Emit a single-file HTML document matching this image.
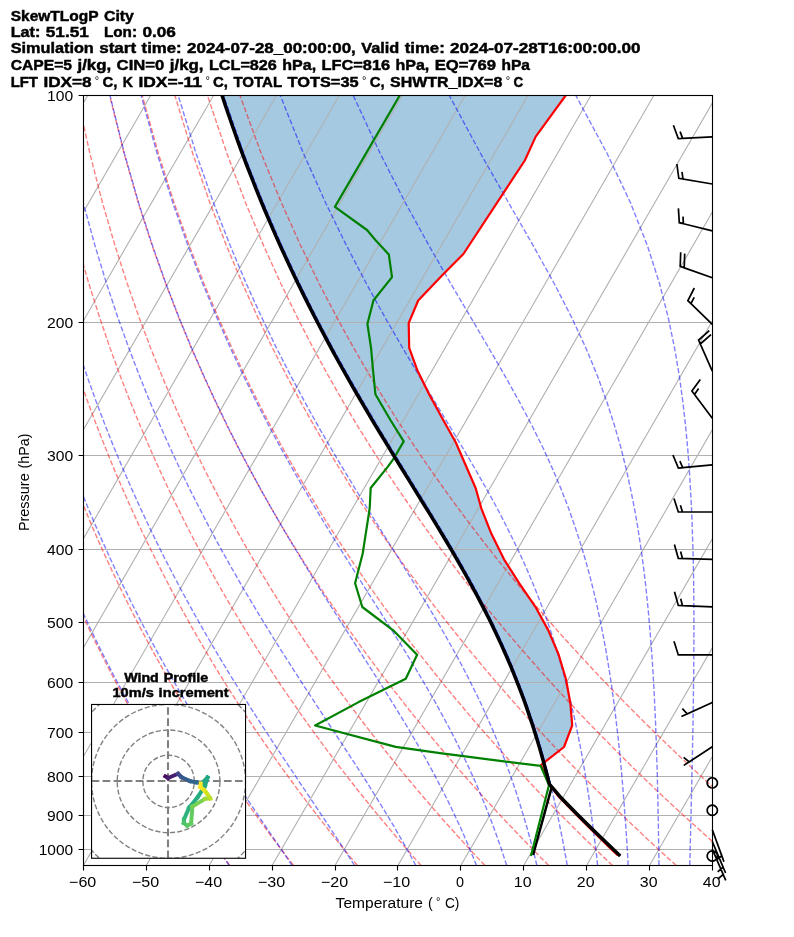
<!DOCTYPE html>
<html><head><meta charset="utf-8"><title>SkewTLogP City</title>
<style>html,body{margin:0;padding:0;background:#fff}svg{display:block;will-change:transform}</style></head>
<body>
<svg width="794" height="937" viewBox="0 0 794 937" font-family="'Liberation Sans', sans-serif">
<rect width="794" height="937" fill="#fff"/>
<defs><clipPath id="ax"><rect x="83.5" y="95.5" width="629" height="770"/></clipPath><clipPath id="hod"><rect x="91.55" y="704.47" width="154.03" height="153.77"/></clipPath></defs>
<g clip-path="url(#ax)">
<path d="M222.1 95.5 L225.9 107.2 L229.9 118.8 L234 130.5 L238.1 142.2 L242.4 153.9 L246.8 165.5 L251.4 177.2 L256 188.9 L260.7 200.5 L265.6 212.2 L270.6 223.9 L275.7 235.6 L280.9 247.2 L286.3 258.9 L291.7 270.6 L297.3 282.2 L303 293.9 L308.9 305.6 L314.8 317.3 L320.9 328.9 L327.1 340.6 L333.4 352.3 L339.8 364 L346.4 375.6 L353 387.3 L359.8 399 L366.6 410.6 L373.5 422.3 L380.6 434 L387.7 445.7 L394.8 457.3 L402 469 L409.2 480.7 L416.4 492.3 L423.6 504 L430.8 515.7 L437.9 527.4 L444.9 539 L451.8 550.7 L458.6 562.4 L465.2 574 L471.7 585.7 L478 597.4 L484.1 609.1 L490 620.7 L495.6 632.4 L501 644.1 L506.2 655.7 L511.2 667.4 L515.9 679.1 L520.5 690.8 L524.8 702.4 L528.8 714.1 L532.7 725.8 L536.4 737.4 L539.9 749.1 L543.2 760.8 L543.3 762.8 L564 747 L572.2 725.4 L570.4 703.5 L566 679.2 L558.5 654.3 L548.2 630.1 L535.4 606.8 L519.3 583.4 L504 559.3 L491.4 533.8 L481.3 508.3 L475.7 488.2 L455.7 442.3 L443.2 420 L429.2 394.4 L417.1 369.7 L409.2 347.8 L408.7 323.1 L418.2 300.5 L442 275.5 L463.4 254 L524.8 160.5 L535.7 136.6 L566 95Z" fill="#1f77b4" fill-opacity="0.4"/>
<path d="M-356.9 865.5L87.7 95.5M-294 865.5L150.6 95.5M-231.1 865.5L213.5 95.5M-168.2 865.5L276.4 95.5M-105.3 865.5L339.3 95.5M-42.4 865.5L402.2 95.5M20.5 865.5L465.1 95.5M83.4 865.5L528 95.5M146.3 865.5L590.9 95.5M209.2 865.5L653.8 95.5M272.1 865.5L716.7 95.5M335 865.5L779.6 95.5M397.9 865.5L842.5 95.5M460.8 865.5L905.4 95.5M523.7 865.5L968.3 95.5M586.6 865.5L1031.2 95.5M649.5 865.5L1094.1 95.5M712.4 865.5L1157 95.5M83.5 95.5H712.5M83.5 322.5H712.5M83.5 455.5H712.5M83.5 549.5H712.5M83.5 622.5H712.5M83.5 682.5H712.5M83.5 732.5H712.5M83.5 776.5H712.5M83.5 815.5H712.5M83.5 849.5H712.5" stroke="#b0b0b0" stroke-width="1.1" fill="none"/>
<path d="M229.8 865.5 L225.4 859.4 L221 853.2 L216.5 846.8 L212 840.4 L207.5 833.8 L202.9 827 L198.3 820.2 L193.6 813.2 L188.9 806 L184.1 798.7 L179.3 791.2 L174.4 783.5 L169.5 775.6 L164.5 767.6 L159.5 759.3 L154.4 750.8 L149.3 742.1 L144 733.2 L138.8 724 L133.4 714.6 L128 704.8 L122.6 694.8 L117 684.5 L111.4 673.8 L105.7 662.7 L100 651.3 L94.1 639.5 L88.2 627.2 L82.2 614.4 L76.1 601.1 L69.9 587.3 L63.6 572.8 L57.3 557.7 L50.8 541.9 L44.2 525.2 L37.6 507.6 L30.8 489.1 L24 469.4 L17 448.5 L9.9 426.2 L2.8 402.2 L-4.4 376.3 L-11.7 348.2 L-19 317.4 L-26.3 283.5 L-33.5 245.6 L-40.6 202.8 L-47.2 153.5 L-53.2 95.5M293.6 865.5 L288.9 859.4 L284.1 853.2 L279.3 846.8 L274.4 840.4 L269.5 833.8 L264.6 827 L259.6 820.2 L254.6 813.2 L249.5 806 L244.3 798.7 L239.1 791.2 L233.8 783.5 L228.5 775.6 L223.1 767.6 L217.6 759.3 L212.1 750.8 L206.5 742.1 L200.9 733.2 L195.2 724 L189.4 714.6 L183.5 704.8 L177.5 694.8 L171.5 684.5 L165.4 673.8 L159.2 662.7 L152.9 651.3 L146.5 639.5 L140 627.2 L133.4 614.4 L126.7 601.1 L119.9 587.3 L113 572.8 L106 557.7 L98.9 541.9 L91.6 525.2 L84.3 507.6 L76.7 489.1 L69.1 469.4 L61.3 448.5 L53.4 426.2 L45.4 402.2 L37.2 376.3 L28.9 348.2 L20.5 317.4 L12.1 283.5 L3.6 245.6 L-4.8 202.8 L-13 153.5 L-20.6 95.5M357.4 865.5 L352.3 859.4 L347.2 853.2 L342 846.8 L336.8 840.4 L331.6 833.8 L326.3 827 L320.9 820.2 L315.5 813.2 L310 806 L304.5 798.7 L298.9 791.2 L293.2 783.5 L287.5 775.6 L281.7 767.6 L275.8 759.3 L269.8 750.8 L263.8 742.1 L257.7 733.2 L251.5 724 L245.3 714.6 L238.9 704.8 L232.5 694.8 L226 684.5 L219.3 673.8 L212.6 662.7 L205.8 651.3 L198.9 639.5 L191.8 627.2 L184.7 614.4 L177.4 601.1 L170 587.3 L162.5 572.8 L154.8 557.7 L147 541.9 L139 525.2 L130.9 507.6 L122.7 489.1 L114.2 469.4 L105.7 448.5 L96.9 426.2 L87.9 402.2 L78.8 376.3 L69.5 348.2 L60.1 317.4 L50.4 283.5 L40.7 245.6 L31 202.8 L21.3 153.5 L12 95.5M421.1 865.5 L415.7 859.4 L410.3 853.2 L404.8 846.8 L399.2 840.4 L393.6 833.8 L388 827 L382.2 820.2 L376.4 813.2 L370.6 806 L364.6 798.7 L358.6 791.2 L352.6 783.5 L346.4 775.6 L340.2 767.6 L333.9 759.3 L327.5 750.8 L321.1 742.1 L314.5 733.2 L307.9 724 L301.2 714.6 L294.4 704.8 L287.4 694.8 L280.4 684.5 L273.3 673.8 L266.1 662.7 L258.7 651.3 L251.2 639.5 L243.6 627.2 L235.9 614.4 L228 601.1 L220 587.3 L211.9 572.8 L203.6 557.7 L195.1 541.9 L186.4 525.2 L177.6 507.6 L168.6 489.1 L159.4 469.4 L150 448.5 L140.4 426.2 L130.5 402.2 L120.4 376.3 L110.1 348.2 L99.6 317.4 L88.8 283.5 L77.9 245.6 L66.7 202.8 L55.6 153.5 L44.6 95.5M484.9 865.5 L479.2 859.4 L473.4 853.2 L467.6 846.8 L461.6 840.4 L455.7 833.8 L449.6 827 L443.5 820.2 L437.4 813.2 L431.1 806 L424.8 798.7 L418.4 791.2 L411.9 783.5 L405.4 775.6 L398.8 767.6 L392.1 759.3 L385.3 750.8 L378.4 742.1 L371.4 733.2 L364.3 724 L357.1 714.6 L349.8 704.8 L342.4 694.8 L334.9 684.5 L327.2 673.8 L319.5 662.7 L311.6 651.3 L303.6 639.5 L295.4 627.2 L287.1 614.4 L278.7 601.1 L270.1 587.3 L261.3 572.8 L252.3 557.7 L243.2 541.9 L233.8 525.2 L224.3 507.6 L214.5 489.1 L204.5 469.4 L194.3 448.5 L183.8 426.2 L173.1 402.2 L162.1 376.3 L150.7 348.2 L139.1 317.4 L127.2 283.5 L115 245.6 L102.5 202.8 L89.9 153.5 L77.1 95.5M548.7 865.5 L542.6 859.4 L536.5 853.2 L530.3 846.8 L524 840.4 L517.7 833.8 L511.3 827 L504.8 820.2 L498.3 813.2 L491.7 806 L485 798.7 L478.2 791.2 L471.3 783.5 L464.4 775.6 L457.3 767.6 L450.2 759.3 L443 750.8 L435.6 742.1 L428.2 733.2 L420.7 724 L413 714.6 L405.2 704.8 L397.4 694.8 L389.3 684.5 L381.2 673.8 L372.9 662.7 L364.5 651.3 L356 639.5 L347.2 627.2 L338.4 614.4 L329.3 601.1 L320.1 587.3 L310.7 572.8 L301.1 557.7 L291.3 541.9 L281.2 525.2 L271 507.6 L260.5 489.1 L249.7 469.4 L238.6 448.5 L227.3 426.2 L215.7 402.2 L203.7 376.3 L191.4 348.2 L178.7 317.4 L165.6 283.5 L152.1 245.6 L138.3 202.8 L124.1 153.5 L109.7 95.5M612.5 865.5 L606.1 859.4 L599.6 853.2 L593.1 846.8 L586.4 840.4 L579.8 833.8 L573 827 L566.2 820.2 L559.2 813.2 L552.2 806 L545.1 798.7 L538 791.2 L530.7 783.5 L523.3 775.6 L515.9 767.6 L508.3 759.3 L500.7 750.8 L492.9 742.1 L485 733.2 L477 724 L468.9 714.6 L460.7 704.8 L452.3 694.8 L443.8 684.5 L435.2 673.8 L426.4 662.7 L417.4 651.3 L408.3 639.5 L399 627.2 L389.6 614.4 L380 601.1 L370.1 587.3 L360.1 572.8 L349.8 557.7 L339.4 541.9 L328.6 525.2 L317.6 507.6 L306.4 489.1 L294.8 469.4 L283 448.5 L270.8 426.2 L258.2 402.2 L245.3 376.3 L232 348.2 L218.2 317.4 L204 283.5 L189.3 245.6 L174.1 202.8 L158.4 153.5 L142.3 95.5M676.3 865.5 L669.5 859.4 L662.7 853.2 L655.8 846.8 L648.8 840.4 L641.8 833.8 L634.7 827 L627.5 820.2 L620.2 813.2 L612.8 806 L605.3 798.7 L597.7 791.2 L590.1 783.5 L582.3 775.6 L574.4 767.6 L566.5 759.3 L558.4 750.8 L550.2 742.1 L541.9 733.2 L533.4 724 L524.8 714.6 L516.1 704.8 L507.3 694.8 L498.3 684.5 L489.1 673.8 L479.8 662.7 L470.3 651.3 L460.7 639.5 L450.9 627.2 L440.8 614.4 L430.6 601.1 L420.2 587.3 L409.5 572.8 L398.6 557.7 L387.4 541.9 L376 525.2 L364.3 507.6 L352.3 489.1 L340 469.4 L327.3 448.5 L314.3 426.2 L300.8 402.2 L286.9 376.3 L272.6 348.2 L257.8 317.4 L242.4 283.5 L226.4 245.6 L209.9 202.8 L192.7 153.5 L174.9 95.5M740.1 865.5 L733 859.4 L725.8 853.2 L718.6 846.8 L711.2 840.4 L703.8 833.8 L696.4 827 L688.8 820.2 L681.1 813.2 L673.3 806 L665.5 798.7 L657.5 791.2 L649.5 783.5 L641.3 775.6 L633 767.6 L624.6 759.3 L616.1 750.8 L607.5 742.1 L598.7 733.2 L589.8 724 L580.7 714.6 L571.6 704.8 L562.2 694.8 L552.7 684.5 L543.1 673.8 L533.3 662.7 L523.3 651.3 L513.1 639.5 L502.7 627.2 L492.1 614.4 L481.2 601.1 L470.2 587.3 L458.9 572.8 L447.4 557.7 L435.5 541.9 L423.4 525.2 L411 507.6 L398.2 489.1 L385.1 469.4 L371.6 448.5 L357.7 426.2 L343.4 402.2 L328.6 376.3 L313.2 348.2 L297.3 317.4 L280.8 283.5 L263.6 245.6 L245.6 202.8 L226.9 153.5 L207.5 95.5M803.8 865.5 L796.4 859.4 L788.9 853.2 L781.3 846.8 L773.6 840.4 L765.9 833.8 L758 827 L750.1 820.2 L742 813.2 L733.9 806 L725.7 798.7 L717.3 791.2 L708.8 783.5 L700.3 775.6 L691.6 767.6 L682.7 759.3 L673.8 750.8 L664.7 742.1 L655.5 733.2 L646.2 724 L636.7 714.6 L627 704.8 L617.2 694.8 L607.2 684.5 L597 673.8 L586.7 662.7 L576.2 651.3 L565.4 639.5 L554.5 627.2 L543.3 614.4 L531.9 601.1 L520.2 587.3 L508.3 572.8 L496.1 557.7 L483.6 541.9 L470.8 525.2 L457.7 507.6 L444.2 489.1 L430.3 469.4 L416 448.5 L401.2 426.2 L386 402.2 L370.2 376.3 L353.8 348.2 L336.8 317.4 L319.1 283.5 L300.7 245.6 L281.4 202.8 L261.2 153.5 L240 95.5" stroke="#ff0000" stroke-opacity="0.5" stroke-width="1.39" stroke-dasharray="5.14 2.22" fill="none"/>
<path d="M229.2 865.5 L225.1 859.4 L220.9 853.2 L216.6 846.8 L212.3 840.4 L207.9 833.8 L203.5 827 L199 820.2 L194.5 813.2 L189.8 806 L185.2 798.7 L180.4 791.2 L175.6 783.5 L170.8 775.6 L165.8 767.6 L160.9 759.3 L155.8 750.8 L150.7 742.1 L145.5 733.2 L140.3 724 L134.9 714.6 L129.5 704.8 L124.1 694.8 L118.5 684.5 L112.9 673.8 L107.2 662.7 L101.5 651.3 L95.6 639.5 L89.7 627.2 L83.7 614.4 L77.5 601.1 L71.3 587.3 L65.1 572.8 L58.7 557.7 L52.2 541.9 L45.6 525.2 L38.9 507.6 L32.1 489.1 L25.3 469.4 L18.3 448.5 L11.2 426.2 L4 402.2 L-3.2 376.3 L-10.5 348.2 L-17.9 317.4 L-25.2 283.5 L-32.5 245.6 L-39.5 202.8 L-46.2 153.5 L-52.2 95.5M292.2 865.5 L288 859.4 L283.8 853.2 L279.5 846.8 L275.1 840.4 L270.6 833.8 L266 827 L261.4 820.2 L256.7 813.2 L251.9 806 L247 798.7 L242 791.2 L236.9 783.5 L231.8 775.6 L226.5 767.6 L221.2 759.3 L215.8 750.8 L210.3 742.1 L204.8 733.2 L199.1 724 L193.4 714.6 L187.5 704.8 L181.6 694.8 L175.6 684.5 L169.5 673.8 L163.2 662.7 L156.9 651.3 L150.5 639.5 L144 627.2 L137.4 614.4 L130.7 601.1 L123.9 587.3 L116.9 572.8 L109.9 557.7 L102.7 541.9 L95.4 525.2 L87.9 507.6 L80.4 489.1 L72.7 469.4 L64.8 448.5 L56.8 426.2 L48.7 402.2 L40.5 376.3 L32.1 348.2 L23.6 317.4 L15.1 283.5 L6.5 245.6 L-2 202.8 L-10.3 153.5 L-18 95.5M354.5 865.5 L350.6 859.4 L346.6 853.2 L342.5 846.8 L338.3 840.4 L333.9 833.8 L329.5 827 L325 820.2 L320.3 813.2 L315.5 806 L310.6 798.7 L305.6 791.2 L300.4 783.5 L295.2 775.6 L289.8 767.6 L284.3 759.3 L278.7 750.8 L272.9 742.1 L267.1 733.2 L261.1 724 L255 714.6 L248.8 704.8 L242.5 694.8 L236 684.5 L229.4 673.8 L222.7 662.7 L215.9 651.3 L208.9 639.5 L201.8 627.2 L194.6 614.4 L187.3 601.1 L179.8 587.3 L172.2 572.8 L164.4 557.7 L156.5 541.9 L148.4 525.2 L140.2 507.6 L131.8 489.1 L123.2 469.4 L114.4 448.5 L105.5 426.2 L96.4 402.2 L87.1 376.3 L77.6 348.2 L67.9 317.4 L58 283.5 L48.1 245.6 L38.1 202.8 L28.1 153.5 L18.4 95.5M415.8 865.5 L412.6 859.4 L409.2 853.2 L405.6 846.8 L402 840.4 L398.2 833.8 L394.3 827 L390.2 820.2 L386 813.2 L381.6 806 L377.1 798.7 L372.4 791.2 L367.6 783.5 L362.6 775.6 L357.4 767.6 L352 759.3 L346.5 750.8 L340.8 742.1 L335 733.2 L328.9 724 L322.7 714.6 L316.3 704.8 L309.8 694.8 L303 684.5 L296.1 673.8 L289 662.7 L281.7 651.3 L274.3 639.5 L266.7 627.2 L258.9 614.4 L250.9 601.1 L242.7 587.3 L234.4 572.8 L225.8 557.7 L217.1 541.9 L208.2 525.2 L199.1 507.6 L189.7 489.1 L180.2 469.4 L170.4 448.5 L160.4 426.2 L150.1 402.2 L139.6 376.3 L128.9 348.2 L117.8 317.4 L106.5 283.5 L95 245.6 L83.2 202.8 L71.4 153.5 L59.6 95.5M476.5 865.5 L474.1 859.4 L471.5 853.2 L468.9 846.8 L466.1 840.4 L463.3 833.8 L460.3 827 L457.1 820.2 L453.8 813.2 L450.4 806 L446.8 798.7 L443 791.2 L439 783.5 L434.9 775.6 L430.5 767.6 L426 759.3 L421.2 750.8 L416.2 742.1 L411 733.2 L405.5 724 L399.8 714.6 L393.8 704.8 L387.5 694.8 L381 684.5 L374.2 673.8 L367.1 662.7 L359.8 651.3 L352.2 639.5 L344.3 627.2 L336.1 614.4 L327.6 601.1 L318.9 587.3 L309.8 572.8 L300.6 557.7 L291 541.9 L281.1 525.2 L271 507.6 L260.6 489.1 L249.9 469.4 L238.9 448.5 L227.6 426.2 L216 402.2 L204 376.3 L191.7 348.2 L179 317.4 L165.9 283.5 L152.5 245.6 L138.6 202.8 L124.4 153.5 L110 95.5M506.7 865.5 L504.7 859.4 L502.7 853.2 L500.6 846.8 L498.3 840.4 L496 833.8 L493.5 827 L491 820.2 L488.3 813.2 L485.4 806 L482.4 798.7 L479.3 791.2 L476 783.5 L472.5 775.6 L468.8 767.6 L464.9 759.3 L460.8 750.8 L456.5 742.1 L452 733.2 L447.1 724 L442 714.6 L436.7 704.8 L431 694.8 L425 684.5 L418.7 673.8 L412 662.7 L405 651.3 L397.6 639.5 L389.9 627.2 L381.8 614.4 L373.4 601.1 L364.6 587.3 L355.4 572.8 L345.9 557.7 L336 541.9 L325.7 525.2 L315.1 507.6 L304.1 489.1 L292.8 469.4 L281.1 448.5 L269 426.2 L256.6 402.2 L243.7 376.3 L230.5 348.2 L216.8 317.4 L202.6 283.5 L187.9 245.6 L172.8 202.8 L157.1 153.5 L141.1 95.5M536.9 865.5 L535.4 859.4 L533.9 853.2 L532.2 846.8 L530.5 840.4 L528.7 833.8 L526.8 827 L524.8 820.2 L522.7 813.2 L520.5 806 L518.2 798.7 L515.8 791.2 L513.2 783.5 L510.5 775.6 L507.6 767.6 L504.5 759.3 L501.2 750.8 L497.8 742.1 L494.1 733.2 L490.1 724 L485.9 714.6 L481.5 704.8 L476.7 694.8 L471.6 684.5 L466.2 673.8 L460.4 662.7 L454.2 651.3 L447.6 639.5 L440.5 627.2 L433 614.4 L425.1 601.1 L416.6 587.3 L407.6 572.8 L398.2 557.7 L388.2 541.9 L377.8 525.2 L366.9 507.6 L355.4 489.1 L343.5 469.4 L331.1 448.5 L318.2 426.2 L304.9 402.2 L291 376.3 L276.6 348.2 L261.7 317.4 L246.2 283.5 L230.2 245.6 L213.5 202.8 L196.1 153.5 L178.2 95.5M567.2 865.5 L566.2 859.4 L565 853.2 L563.9 846.8 L562.7 840.4 L561.4 833.8 L560 827 L558.6 820.2 L557.1 813.2 L555.5 806 L553.9 798.7 L552.1 791.2 L550.2 783.5 L548.3 775.6 L546.2 767.6 L543.9 759.3 L541.5 750.8 L539 742.1 L536.3 733.2 L533.4 724 L530.2 714.6 L526.9 704.8 L523.3 694.8 L519.4 684.5 L515.2 673.8 L510.7 662.7 L505.8 651.3 L500.4 639.5 L494.7 627.2 L488.4 614.4 L481.6 601.1 L474.3 587.3 L466.3 572.8 L457.7 557.7 L448.4 541.9 L438.4 525.2 L427.7 507.6 L416.3 489.1 L404.1 469.4 L391.3 448.5 L377.7 426.2 L363.5 402.2 L348.5 376.3 L332.9 348.2 L316.6 317.4 L299.6 283.5 L281.8 245.6 L263.2 202.8 L243.8 153.5 L223.5 95.5M597.6 865.5 L597 859.4 L596.3 853.2 L595.5 846.8 L594.7 840.4 L593.9 833.8 L593 827 L592.1 820.2 L591.2 813.2 L590.1 806 L589.1 798.7 L587.9 791.2 L586.7 783.5 L585.4 775.6 L584.1 767.6 L582.6 759.3 L581.1 750.8 L579.4 742.1 L577.6 733.2 L575.7 724 L573.7 714.6 L571.4 704.8 L569 694.8 L566.4 684.5 L563.6 673.8 L560.5 662.7 L557.1 651.3 L553.4 639.5 L549.4 627.2 L544.9 614.4 L539.9 601.1 L534.5 587.3 L528.4 572.8 L521.7 557.7 L514.2 541.9 L505.9 525.2 L496.8 507.6 L486.6 489.1 L475.4 469.4 L463.1 448.5 L449.6 426.2 L435.1 402.2 L419.5 376.3 L402.8 348.2 L385 317.4 L366.3 283.5 L346.5 245.6 L325.6 202.8 L303.5 153.5 L280.3 95.5M628.2 865.5 L627.9 859.4 L627.5 853.2 L627.1 846.8 L626.7 840.4 L626.3 833.8 L625.8 827 L625.3 820.2 L624.8 813.2 L624.3 806 L623.7 798.7 L623.1 791.2 L622.5 783.5 L621.8 775.6 L621.1 767.6 L620.3 759.3 L619.5 750.8 L618.6 742.1 L617.6 733.2 L616.5 724 L615.4 714.6 L614.2 704.8 L612.8 694.8 L611.4 684.5 L609.8 673.8 L608 662.7 L606.1 651.3 L603.9 639.5 L601.6 627.2 L598.9 614.4 L596 601.1 L592.7 587.3 L589 572.8 L584.8 557.7 L580 541.9 L574.5 525.2 L568.3 507.6 L561.1 489.1 L552.8 469.4 L543.3 448.5 L532.3 426.2 L519.6 402.2 L505.2 376.3 L488.9 348.2 L470.8 317.4 L450.7 283.5 L429 245.6 L405.4 202.8 L380.2 153.5 L353.3 95.5M658.9 865.5 L658.9 859.4 L658.8 853.2 L658.7 846.8 L658.6 840.4 L658.5 833.8 L658.4 827 L658.3 820.2 L658.1 813.2 L658 806 L657.8 798.7 L657.7 791.2 L657.5 783.5 L657.3 775.6 L657.1 767.6 L656.8 759.3 L656.6 750.8 L656.3 742.1 L655.9 733.2 L655.6 724 L655.2 714.6 L654.7 704.8 L654.3 694.8 L653.7 684.5 L653.1 673.8 L652.4 662.7 L651.6 651.3 L650.7 639.5 L649.7 627.2 L648.6 614.4 L647.3 601.1 L645.9 587.3 L644.2 572.8 L642.3 557.7 L640 541.9 L637.4 525.2 L634.3 507.6 L630.6 489.1 L626.3 469.4 L621.1 448.5 L614.7 426.2 L607 402.2 L597.6 376.3 L586 348.2 L571.6 317.4 L554.2 283.5 L533.2 245.6 L508.6 202.8 L480.6 153.5 L449.3 95.5M689.8 865.5 L689.9 859.4 L690.1 853.2 L690.2 846.8 L690.4 840.4 L690.6 833.8 L690.7 827 L690.9 820.2 L691.1 813.2 L691.2 806 L691.4 798.7 L691.6 791.2 L691.8 783.5 L691.9 775.6 L692.1 767.6 L692.3 759.3 L692.5 750.8 L692.6 742.1 L692.8 733.2 L693 724 L693.1 714.6 L693.3 704.8 L693.4 694.8 L693.5 684.5 L693.7 673.8 L693.8 662.7 L693.8 651.3 L693.9 639.5 L693.9 627.2 L693.9 614.4 L693.8 601.1 L693.7 587.3 L693.5 572.8 L693.2 557.7 L692.7 541.9 L692.2 525.2 L691.5 507.6 L690.5 489.1 L689.3 469.4 L687.7 448.5 L685.6 426.2 L682.9 402.2 L679.4 376.3 L674.6 348.2 L668.2 317.4 L659.5 283.5 L647.4 245.6 L630.5 202.8 L607.1 153.5 L575.9 95.5M720.8 865.5 L721.1 859.4 L721.4 853.2 L721.8 846.8 L722.1 840.4 L722.5 833.8 L722.9 827 L723.3 820.2 L723.7 813.2 L724.1 806 L724.5 798.7 L724.9 791.2 L725.4 783.5 L725.8 775.6 L726.3 767.6 L726.8 759.3 L727.3 750.8 L727.8 742.1 L728.3 733.2 L728.9 724 L729.5 714.6 L730 704.8 L730.6 694.8 L731.3 684.5 L731.9 673.8 L732.6 662.7 L733.2 651.3 L733.9 639.5 L734.6 627.2 L735.4 614.4 L736.1 601.1 L736.9 587.3 L737.7 572.8 L738.5 557.7 L739.3 541.9 L740.1 525.2 L740.9 507.6 L741.7 489.1 L742.4 469.4 L743.1 448.5 L743.7 426.2 L744.2 402.2 L744.5 376.3 L744.5 348.2 L744.1 317.4 L742.9 283.5 L740.6 245.6 L736.3 202.8 L728.7 153.5 L715 95.5M751.9 865.5 L752.3 859.4 L752.8 853.2 L753.3 846.8 L753.8 840.4 L754.3 833.8 L754.8 827 L755.4 820.2 L756 813.2 L756.6 806 L757.2 798.7 L757.8 791.2 L758.4 783.5 L759.1 775.6 L759.8 767.6 L760.5 759.3 L761.2 750.8 L762 742.1 L762.8 733.2 L763.6 724 L764.5 714.6 L765.4 704.8 L766.3 694.8 L767.3 684.5 L768.3 673.8 L769.3 662.7 L770.4 651.3 L771.5 639.5 L772.7 627.2 L774 614.4 L775.3 601.1 L776.6 587.3 L778 572.8 L779.5 557.7 L781.1 541.9 L782.8 525.2 L784.5 507.6 L786.4 489.1 L788.3 469.4 L790.4 448.5 L792.6 426.2 L794.9 402.2 L797.4 376.3 L800 348.2 L802.7 317.4 L805.6 283.5 L808.5 245.6 L811.3 202.8 L813.8 153.5 L815.4 95.5M783 865.5 L783.6 859.4 L784.2 853.2 L784.8 846.8 L785.4 840.4 L786 833.8 L786.7 827 L787.3 820.2 L788 813.2 L788.7 806 L789.5 798.7 L790.3 791.2 L791 783.5 L791.9 775.6 L792.7 767.6 L793.6 759.3 L794.5 750.8 L795.4 742.1 L796.4 733.2 L797.4 724 L798.5 714.6 L799.6 704.8 L800.7 694.8 L801.9 684.5 L803.2 673.8 L804.5 662.7 L805.8 651.3 L807.3 639.5 L808.8 627.2 L810.4 614.4 L812 601.1 L813.8 587.3 L815.6 572.8 L817.6 557.7 L819.6 541.9 L821.8 525.2 L824.2 507.6 L826.7 489.1 L829.3 469.4 L832.2 448.5 L835.3 426.2 L838.7 402.2 L842.3 376.3 L846.4 348.2 L850.8 317.4 L855.7 283.5 L861.1 245.6 L867.3 202.8 L874.3 153.5 L882.4 95.5" stroke="#0000ff" stroke-opacity="0.5" stroke-width="1.39" stroke-dasharray="5.14 2.22" fill="none"/>
<path d="M551.7 787.1 L533.4 853.8" stroke="#000" stroke-width="2.5" fill="none" stroke-linecap="square"/>
<path d="M566 95 L535.7 136.6 L524.8 160.5 L463.4 254 L442 275.5 L418.2 300.5 L408.7 323.1 L409.2 347.8 L417.1 369.7 L429.2 394.4 L443.2 420 L455.7 442.3 L475.7 488.2 L481.3 508.3 L491.4 533.8 L504 559.3 L519.3 583.4 L535.4 606.8 L548.2 630.1 L558.5 654.3 L566 679.2 L570.4 703.5 L572.2 725.4 L564 747 L541 765 L549.2 784.3 L558.9 796.7 L567.6 805.7 L576.2 814.4 L584.6 822.9 L592.9 831.2 L601.1 839.2 L609.2 847.1 L617.2 854.8" stroke="#ff0000" stroke-width="2.2" fill="none" stroke-linejoin="round" stroke-linecap="square"/>
<path d="M400 95 L334.9 206.9 L367 230 L375.4 240 L388.8 254.4 L392 277.1 L373.4 300.5 L367.4 323.9 L371.1 348.3 L373 370 L375.4 394.2 L390.4 420 L403.7 441.4 L394.2 457.8 L387.9 466.6 L370.7 488 L369.7 508.2 L362.7 553.5 L355.1 583.2 L362.3 607 L393.2 630.3 L417.1 654.7 L405.8 678.7 L358.6 702.1 L315.1 725.5 L395.7 746.9 L440 753.2 L500 760.8 L540.6 765.9 L549 785 L531.2 854.9" stroke="#008000" stroke-width="2.2" fill="none" stroke-linejoin="round" stroke-linecap="square"/>
<path d="M550.1 784.1 L547.1 772.5 L544 760.8 L540.7 749.1 L537.2 737.4 L533.5 725.8 L529.6 714.1 L525.5 702.4 L521.2 690.8 L516.7 679.1 L512 667.4 L507 655.7 L501.8 644.1 L496.4 632.4 L490.7 620.7 L484.8 609.1 L478.7 597.4 L472.5 585.7 L466 574 L459.4 562.4 L452.6 550.7 L445.6 539 L438.6 527.4 L431.5 515.7 L424.4 504 L417.2 492.3 L409.9 480.7 L402.7 469 L395.5 457.3 L388.4 445.7 L381.3 434 L374.3 422.3 L367.4 410.6 L360.5 399 L353.8 387.3 L347.1 375.6 L340.6 364 L334.1 352.3 L327.8 340.6 L321.6 328.9 L315.6 317.3 L309.6 305.6 L303.8 293.9 L298.1 282.2 L292.5 270.6 L287 258.9 L281.7 247.2 L276.4 235.6 L271.3 223.9 L266.4 212.2 L261.5 200.5 L256.7 188.9 L252.1 177.2 L247.6 165.5 L243.2 153.9 L238.9 142.2 L234.7 130.5 L230.6 118.8 L226.7 107.2 L222.8 95.5" stroke="#0000ff" stroke-opacity="0.7" stroke-width="2.08" fill="none"/>
<path d="M619 854.8 L610.9 847.1 L602.8 839.2 L594.5 831.2 L586.1 822.9 L577.5 814.4 L568.9 805.7 L560.1 796.7 L549.4 784.1 L546.4 772.5 L543.2 760.8 L539.9 749.1 L536.4 737.4 L532.7 725.8 L528.8 714.1 L524.8 702.4 L520.5 690.8 L515.9 679.1 L511.2 667.4 L506.2 655.7 L501 644.1 L495.6 632.4 L490 620.7 L484.1 609.1 L478 597.4 L471.7 585.7 L465.2 574 L458.6 562.4 L451.8 550.7 L444.9 539 L437.9 527.4 L430.8 515.7 L423.6 504 L416.4 492.3 L409.2 480.7 L402 469 L394.8 457.3 L387.7 445.7 L380.6 434 L373.5 422.3 L366.6 410.6 L359.8 399 L353 387.3 L346.4 375.6 L339.8 364 L333.4 352.3 L327.1 340.6 L320.9 328.9 L314.8 317.3 L308.9 305.6 L303 293.9 L297.3 282.2 L291.7 270.6 L286.3 258.9 L280.9 247.2 L275.7 235.6 L270.6 223.9 L265.6 212.2 L260.7 200.5 L256 188.9 L251.4 177.2 L246.8 165.5 L242.4 153.9 L238.1 142.2 L234 130.5 L229.9 118.8 L225.9 107.2 L222.1 95.5" stroke="#000" stroke-width="3.47" fill="none" stroke-linejoin="round" stroke-linecap="square"/>
</g>
<path d="M712.3 136.9 L678.3 138.5 L673.4 125.2 L678.3 138.5 L682.6 138.3 L680.1 131.6 L682.6 138.3 L712.3 136.9ZM712.3 184 L678.8 178.3 L676.9 164.1 L678.8 178.3 L683 179 L682 171.9 L683 179 L712.3 184ZM712.3 230.9 L679.3 222.7 L678.4 208.4 L679.3 222.7 L683.4 223.7 L683 216.6 L683.4 223.7 L712.3 230.9ZM712.3 277.7 L680.2 266.4 L680.7 252.2 L680.2 266.4 L684.2 267.8 L684.7 253.6 L684.2 267.8 L712.3 277.7ZM712.3 324.4 L687.9 300.7 L694.3 288 L687.9 300.7 L690.9 303.6 L694.2 297.3 L690.9 303.6 L712.3 324.4ZM712.3 371.2 L698.6 340.1 L709.3 330.7 L698.6 340.1 L700.3 344 L711 334.6 L700.3 344 L712.3 371.2ZM712.3 418.2 L691.9 391 L700.3 379.4 L691.9 391 L694.5 394.4 L698.6 388.6 L694.5 394.4 L712.3 418.2ZM712.3 464.8 L678.4 468.2 L672.9 455 L678.4 468.2 L682.7 467.7 L679.9 461.2 L682.7 467.7 L712.3 464.8ZM712.3 512 L678.3 512 L674 498.4 L678.3 512 L682.5 512 L680.4 505.2 L682.5 512 L712.3 512ZM712.3 559.3 L678.3 558.3 L674.4 544.6 L678.3 558.3 L682.5 558.5 L680.6 551.6 L682.5 558.5 L712.3 559.3ZM712.3 606.8 L678.3 605.5 L674.5 591.8 L678.3 605.5 L682.5 605.7 L680.7 598.8 L682.5 605.7 L712.3 606.8ZM712.3 654.9 L678.3 654.9 L674 641.3 L678.3 654.9 L712.3 654.9ZM712.3 702.4 L681.4 716.6 L687.2 713.9 L682.4 708.6 L687.2 713.9 L712.3 702.4ZM712.3 746.7 L683.8 765.4 L689.2 761.9 L683.7 757.3 L689.2 761.9 L712.3 746.7ZM712.3 777.8 L710.7 778 L709.3 778.8 L708.2 779.9 L707.4 781.3 L707.2 782.9 L707.4 784.5 L708.2 785.9 L709.3 787 L710.7 787.8 L712.3 788 L713.9 787.8 L715.3 787 L716.4 785.9 L717.2 784.5 L717.4 782.9 L717.2 781.3 L716.4 779.9 L715.3 778.8 L713.9 778 L712.3 777.8 L712.3 777.8 L713.9 778 L715.3 778.8 L716.4 779.9 L717.2 781.3 L717.4 782.9 L717.2 784.5 L716.4 785.9 L715.3 787 L713.9 787.8 L712.3 788 L710.7 787.8 L709.3 787 L708.2 785.9 L707.4 784.5 L707.2 782.9 L707.4 781.3 L708.2 779.9 L709.3 778.8 L710.7 778 L712.3 777.8 L712.3 777.8ZM712.3 805.2 L710.7 805.4 L709.3 806.2 L708.2 807.3 L707.4 808.7 L707.2 810.3 L707.4 811.9 L708.2 813.3 L709.3 814.4 L710.7 815.2 L712.3 815.4 L713.9 815.2 L715.3 814.4 L716.4 813.3 L717.2 811.9 L717.4 810.3 L717.2 808.7 L716.4 807.3 L715.3 806.2 L713.9 805.4 L712.3 805.2 L712.3 805.2 L713.9 805.4 L715.3 806.2 L716.4 807.3 L717.2 808.7 L717.4 810.3 L717.2 811.9 L716.4 813.3 L715.3 814.4 L713.9 815.2 L712.3 815.4 L710.7 815.2 L709.3 814.4 L708.2 813.3 L707.4 811.9 L707.2 810.3 L707.4 808.7 L708.2 807.3 L709.3 806.2 L710.7 805.4 L712.3 805.2 L712.3 805.2ZM712.3 829.7 L723.9 861.7 L721.8 855.7 L716.1 860 L721.8 855.7 L712.3 829.7ZM712.3 841.7 L725.6 873 L723.1 867.1 L717.7 871.8 L723.1 867.1 L712.3 841.7ZM712.3 849.1 L725.7 880.4 L723.2 874.5 L717.7 879.2 L723.2 874.5 L712.3 849.1ZM712.3 850.9 L710.7 851.1 L709.3 851.9 L708.2 853 L707.4 854.4 L707.2 856 L707.4 857.6 L708.2 859 L709.3 860.1 L710.7 860.9 L712.3 861.1 L713.9 860.9 L715.3 860.1 L716.4 859 L717.2 857.6 L717.4 856 L717.2 854.4 L716.4 853 L715.3 851.9 L713.9 851.1 L712.3 850.9 L712.3 850.9 L713.9 851.1 L715.3 851.9 L716.4 853 L717.2 854.4 L717.4 856 L717.2 857.6 L716.4 859 L715.3 860.1 L713.9 860.9 L712.3 861.1 L710.7 860.9 L709.3 860.1 L708.2 859 L707.4 857.6 L707.2 856 L707.4 854.4 L708.2 853 L709.3 851.9 L710.7 851.1 L712.3 850.9 L712.3 850.9Z" stroke="#000" stroke-width="1.7" fill="none" stroke-linejoin="miter"/>
<rect x="83.5" y="95.5" width="629" height="770" fill="none" stroke="#000" stroke-width="1.11"/>
<path d="M83.5 865.5v4.9M146.5 865.5v4.9M209.5 865.5v4.9M272.5 865.5v4.9M335.5 865.5v4.9M397.5 865.5v4.9M460.5 865.5v4.9M523.5 865.5v4.9M586.5 865.5v4.9M649.5 865.5v4.9M712.5 865.5v4.9M83.5 95.5h-4.9M83.5 322.5h-4.9M83.5 455.5h-4.9M83.5 549.5h-4.9M83.5 622.5h-4.9M83.5 682.5h-4.9M83.5 732.5h-4.9M83.5 776.5h-4.9M83.5 815.5h-4.9M83.5 849.5h-4.9" stroke="#000" stroke-width="1.11" fill="none"/>
<rect x="91.55" y="704.47" width="154" height="153.8" fill="#fff"/>
<g clip-path="url(#hod)" fill="none">
<path d="M194.23 781.36A25.67 25.67 0 1 0 142.90 781.36A25.67 25.67 0 1 0 194.23 781.36" stroke="#808080" stroke-width="1.39" stroke-dasharray="5.14 2.22"/>
<path d="M219.90 781.36A51.33 51.33 0 1 0 117.23 781.36A51.33 51.33 0 1 0 219.90 781.36" stroke="#808080" stroke-width="1.39" stroke-dasharray="5.14 2.22"/>
<path d="M245.56 781.36A77.00 77.00 0 1 0 91.56 781.36A77.00 77.00 0 1 0 245.56 781.36" stroke="#808080" stroke-width="1.39" stroke-dasharray="5.14 2.22"/>
<path d="M271.23 781.36A102.67 102.67 0 1 0 65.90 781.36A102.67 102.67 0 1 0 271.23 781.36" stroke="#808080" stroke-width="1.39" stroke-dasharray="5.14 2.22"/>
<path d="M168 858.24V704.47M91.55 781H245.58" stroke="#808080" stroke-width="2.08" stroke-dasharray="7.7 3.33"/>
<path d="M165.4 776.4L168.1 778" stroke="#46085c" stroke-width="4.0" stroke-linecap="square"/>
<path d="M168.1 778L178 773.8" stroke="#481d6f" stroke-width="4.0" stroke-linecap="square"/>
<path d="M178 773.8L181.6 777.2" stroke="#3e4989" stroke-width="4.0" stroke-linecap="square"/>
<path d="M181.6 777.2L190.1 781.1" stroke="#375a8c" stroke-width="4.0" stroke-linecap="square"/>
<path d="M190.1 781.1L196.4 782.4" stroke="#33628d" stroke-width="4.0" stroke-linecap="square"/>
<path d="M196.4 782.4L202.6 782.7" stroke="#306a8e" stroke-width="4.0" stroke-linecap="square"/>
<path d="M202.6 782.7L207.5 777.5" stroke="#20a386" stroke-width="4.0" stroke-linecap="square"/>
<path d="M207.5 777.5L204.9 786" stroke="#22a884" stroke-width="4.0" stroke-linecap="square"/>
<path d="M204.9 786L197.8 797" stroke="#25ab82" stroke-width="4.0" stroke-linecap="square"/>
<path d="M197.8 797L189.1 807.6" stroke="#26ad81" stroke-width="4.0" stroke-linecap="square"/>
<path d="M189.1 807.6L184.1 819.2" stroke="#2cb17e" stroke-width="4.0" stroke-linecap="square"/>
<path d="M184.1 819.2L183.8 823" stroke="#3bbb75" stroke-width="4.0" stroke-linecap="square"/>
<path d="M183.8 823L187.1 825.7" stroke="#4ec36b" stroke-width="4.0" stroke-linecap="square"/>
<path d="M187.1 825.7L191.1 823.4" stroke="#58c765" stroke-width="4.0" stroke-linecap="square"/>
<path d="M191.1 823.4L192.4 806.6" stroke="#63cb5f" stroke-width="4.0" stroke-linecap="square"/>
<path d="M192.4 806.6L205 798.9" stroke="#7ad151" stroke-width="4.0" stroke-linecap="square"/>
<path d="M205 798.9L210.2 798.4" stroke="#a2da37" stroke-width="4.0" stroke-linecap="square"/>
<path d="M210.2 798.4L206.7 793.2" stroke="#bddf26" stroke-width="4.0" stroke-linecap="square"/>
<path d="M206.7 793.2L203.7 789.7" stroke="#d2e21b" stroke-width="4.0" stroke-linecap="square"/>
<path d="M203.7 789.7L200.3 787" stroke="#ece51b" stroke-width="4.0" stroke-linecap="square"/>
<path d="M200.3 787L200.7 783.4" stroke="#fde725" stroke-width="4.0" stroke-linecap="square"/>
</g>
<rect x="91.55" y="704.47" width="154" height="153.8" fill="none" stroke="#000" stroke-width="1.11"/>
<text x="10.7" y="20.8" font-size="14.7" font-weight="bold" stroke="#000" stroke-width="0.45" textLength="87.9" lengthAdjust="spacingAndGlyphs">SkewTLogP</text>
<text x="104" y="20.8" font-size="14.7" font-weight="bold" stroke="#000" stroke-width="0.45" textLength="29.9" lengthAdjust="spacingAndGlyphs">City</text>
<text x="10.7" y="37" font-size="14.7" font-weight="bold" stroke="#000" stroke-width="0.45" textLength="29.7" lengthAdjust="spacingAndGlyphs">Lat:</text>
<text x="45.8" y="37" font-size="14.7" font-weight="bold" stroke="#000" stroke-width="0.45" textLength="43.1" lengthAdjust="spacingAndGlyphs">51.51</text>
<text x="103.9" y="37" font-size="14.7" font-weight="bold" stroke="#000" stroke-width="0.45" textLength="33.1" lengthAdjust="spacingAndGlyphs">Lon:</text>
<text x="142.4" y="37" font-size="14.7" font-weight="bold" stroke="#000" stroke-width="0.45" textLength="33.5" lengthAdjust="spacingAndGlyphs">0.06</text>
<text x="10.7" y="53.3" font-size="14.7" font-weight="bold" stroke="#000" stroke-width="0.45" textLength="83.1" lengthAdjust="spacingAndGlyphs">Simulation</text>
<text x="99.2" y="53.3" font-size="14.7" font-weight="bold" stroke="#000" stroke-width="0.45" textLength="37" lengthAdjust="spacingAndGlyphs">start</text>
<text x="141.6" y="53.3" font-size="14.7" font-weight="bold" stroke="#000" stroke-width="0.45" textLength="40.1" lengthAdjust="spacingAndGlyphs">time:</text>
<text x="187.1" y="53.3" font-size="14.7" font-weight="bold" stroke="#000" stroke-width="0.45" textLength="168.7" lengthAdjust="spacingAndGlyphs">2024-07-28_00:00:00,</text>
<text x="361.2" y="53.3" font-size="14.7" font-weight="bold" stroke="#000" stroke-width="0.45" textLength="38" lengthAdjust="spacingAndGlyphs">Valid</text>
<text x="404.7" y="53.3" font-size="14.7" font-weight="bold" stroke="#000" stroke-width="0.45" textLength="40.1" lengthAdjust="spacingAndGlyphs">time:</text>
<text x="450.1" y="53.3" font-size="14.7" font-weight="bold" stroke="#000" stroke-width="0.45" textLength="190.5" lengthAdjust="spacingAndGlyphs">2024-07-28T16:00:00.00</text>
<text x="10.7" y="69.5" font-size="14.7" font-weight="bold" stroke="#000" stroke-width="0.45" textLength="61.3" lengthAdjust="spacingAndGlyphs">CAPE=5</text>
<text x="77.5" y="69.5" font-size="14.7" font-weight="bold" stroke="#000" stroke-width="0.45" textLength="33.7" lengthAdjust="spacingAndGlyphs">j/kg,</text>
<text x="116.6" y="69.5" font-size="14.7" font-weight="bold" stroke="#000" stroke-width="0.45" textLength="47.7" lengthAdjust="spacingAndGlyphs">CIN=0</text>
<text x="169.8" y="69.5" font-size="14.7" font-weight="bold" stroke="#000" stroke-width="0.45" textLength="33.7" lengthAdjust="spacingAndGlyphs">j/kg,</text>
<text x="208.9" y="69.5" font-size="14.7" font-weight="bold" stroke="#000" stroke-width="0.45" textLength="68" lengthAdjust="spacingAndGlyphs">LCL=826</text>
<text x="282.3" y="69.5" font-size="14.7" font-weight="bold" stroke="#000" stroke-width="0.45" textLength="33.8" lengthAdjust="spacingAndGlyphs">hPa,</text>
<text x="321.5" y="69.5" font-size="14.7" font-weight="bold" stroke="#000" stroke-width="0.45" textLength="68.6" lengthAdjust="spacingAndGlyphs">LFC=816</text>
<text x="395.5" y="69.5" font-size="14.7" font-weight="bold" stroke="#000" stroke-width="0.45" textLength="33.8" lengthAdjust="spacingAndGlyphs">hPa,</text>
<text x="434.7" y="69.5" font-size="14.7" font-weight="bold" stroke="#000" stroke-width="0.45" textLength="61.4" lengthAdjust="spacingAndGlyphs">EQ=769</text>
<text x="501.5" y="69.5" font-size="14.7" font-weight="bold" stroke="#000" stroke-width="0.45" textLength="28.5" lengthAdjust="spacingAndGlyphs">hPa</text>
<text x="10.7" y="86.5" font-size="14.7" font-weight="bold" stroke="#000" stroke-width="0.45" textLength="27.2" lengthAdjust="spacingAndGlyphs">LFT</text>
<text x="43.4" y="86.5" font-size="14.7" font-weight="bold" stroke="#000" stroke-width="0.45" textLength="48.1" lengthAdjust="spacingAndGlyphs">IDX=8</text>
<text x="102.5" y="86.5" font-size="14.7" font-weight="bold" stroke="#000" stroke-width="0.45" textLength="14.9" lengthAdjust="spacingAndGlyphs">C,</text>
<text x="122.8" y="86.5" font-size="14.7" font-weight="bold" stroke="#000" stroke-width="0.45" textLength="10.2" lengthAdjust="spacingAndGlyphs">K</text>
<text x="138.4" y="86.5" font-size="14.7" font-weight="bold" stroke="#000" stroke-width="0.45" textLength="63.5" lengthAdjust="spacingAndGlyphs">IDX=-11</text>
<text x="213.1" y="86.5" font-size="14.7" font-weight="bold" stroke="#000" stroke-width="0.45" textLength="14.9" lengthAdjust="spacingAndGlyphs">C,</text>
<text x="233.4" y="86.5" font-size="14.7" font-weight="bold" stroke="#000" stroke-width="0.45" textLength="48.7" lengthAdjust="spacingAndGlyphs">TOTAL</text>
<text x="287.5" y="86.5" font-size="14.7" font-weight="bold" stroke="#000" stroke-width="0.45" textLength="71.1" lengthAdjust="spacingAndGlyphs">TOTS=35</text>
<text x="369.8" y="86.5" font-size="14.7" font-weight="bold" stroke="#000" stroke-width="0.45" textLength="14.9" lengthAdjust="spacingAndGlyphs">C,</text>
<text x="390.1" y="86.5" font-size="14.7" font-weight="bold" stroke="#000" stroke-width="0.45" textLength="112.2" lengthAdjust="spacingAndGlyphs">SHWTR_IDX=8</text>
<text x="513.5" y="86.5" font-size="14.7" font-weight="bold" stroke="#000" stroke-width="0.45" textLength="9.6" lengthAdjust="spacingAndGlyphs">C</text>
<text x="97" y="83.9" font-size="11" text-anchor="middle">°</text>
<text x="207.6" y="83.9" font-size="11" text-anchor="middle">°</text>
<text x="364.3" y="83.9" font-size="11" text-anchor="middle">°</text>
<text x="508" y="83.9" font-size="11" text-anchor="middle">°</text>
<text x="69" y="886.9" font-size="14.7" textLength="27.3" lengthAdjust="spacingAndGlyphs">−60</text>
<text x="131.9" y="886.9" font-size="14.7" textLength="27.3" lengthAdjust="spacingAndGlyphs">−50</text>
<text x="194.9" y="886.9" font-size="14.7" textLength="27.3" lengthAdjust="spacingAndGlyphs">−40</text>
<text x="257.9" y="886.9" font-size="14.7" textLength="27.3" lengthAdjust="spacingAndGlyphs">−30</text>
<text x="320.9" y="886.9" font-size="14.7" textLength="27.3" lengthAdjust="spacingAndGlyphs">−20</text>
<text x="382.9" y="886.9" font-size="14.7" textLength="27.3" lengthAdjust="spacingAndGlyphs">−10</text>
<text x="456.1" y="886.9" font-size="14.7" textLength="8" lengthAdjust="spacingAndGlyphs">0</text>
<text x="513.8" y="886.9" font-size="14.7" textLength="17.7" lengthAdjust="spacingAndGlyphs">10</text>
<text x="576.8" y="886.9" font-size="14.7" textLength="17.7" lengthAdjust="spacingAndGlyphs">20</text>
<text x="639.8" y="886.9" font-size="14.7" textLength="17.7" lengthAdjust="spacingAndGlyphs">30</text>
<text x="702.8" y="886.9" font-size="14.7" textLength="17.7" lengthAdjust="spacingAndGlyphs">40</text>
<text x="47" y="101.1" font-size="14.7" textLength="26.2" lengthAdjust="spacingAndGlyphs">100</text>
<text x="47" y="328.1" font-size="14.7" textLength="26.2" lengthAdjust="spacingAndGlyphs">200</text>
<text x="47" y="460.9" font-size="14.7" textLength="26.2" lengthAdjust="spacingAndGlyphs">300</text>
<text x="47" y="555.1" font-size="14.7" textLength="26.2" lengthAdjust="spacingAndGlyphs">400</text>
<text x="47" y="628.1" font-size="14.7" textLength="26.2" lengthAdjust="spacingAndGlyphs">500</text>
<text x="47" y="687.8" font-size="14.7" textLength="26.2" lengthAdjust="spacingAndGlyphs">600</text>
<text x="47" y="738.3" font-size="14.7" textLength="26.2" lengthAdjust="spacingAndGlyphs">700</text>
<text x="47" y="782.1" font-size="14.7" textLength="26.2" lengthAdjust="spacingAndGlyphs">800</text>
<text x="47" y="820.6" font-size="14.7" textLength="26.2" lengthAdjust="spacingAndGlyphs">900</text>
<text x="38.7" y="855.1" font-size="14.7" textLength="34.5" lengthAdjust="spacingAndGlyphs">1000</text>
<text x="335.6" y="907.8" font-size="14.7" textLength="87.4" lengthAdjust="spacingAndGlyphs">Temperature</text>
<text x="428" y="907.8" font-size="14.7" textLength="4.8" lengthAdjust="spacingAndGlyphs">(</text>
<text x="438.3" y="905.2" font-size="11" text-anchor="middle">°</text>
<text x="444.9" y="907.8" font-size="14.7" textLength="14.5" lengthAdjust="spacingAndGlyphs">C)</text>
<g transform="translate(29.2,531.4) rotate(-90)">
<text x="0.3" y="0" font-size="14.7" textLength="57.8" lengthAdjust="spacingAndGlyphs">Pressure</text>
<text x="63" y="0" font-size="14.7" textLength="34.8" lengthAdjust="spacingAndGlyphs">(hPa)</text>
</g>
<text x="124.2" y="681.6" font-size="12.7" font-weight="bold" stroke="#000" stroke-width="0.45" textLength="34.6" lengthAdjust="spacingAndGlyphs">Wind</text>
<text x="163.7" y="681.6" font-size="12.7" font-weight="bold" stroke="#000" stroke-width="0.45" textLength="44.5" lengthAdjust="spacingAndGlyphs">Profile</text>
<text x="112.5" y="696.9" font-size="12.7" font-weight="bold" stroke="#000" stroke-width="0.45" textLength="41.3" lengthAdjust="spacingAndGlyphs">10m/s</text>
<text x="158.6" y="696.9" font-size="12.7" font-weight="bold" stroke="#000" stroke-width="0.45" textLength="70.1" lengthAdjust="spacingAndGlyphs">increment</text>
</svg>
</body></html>
